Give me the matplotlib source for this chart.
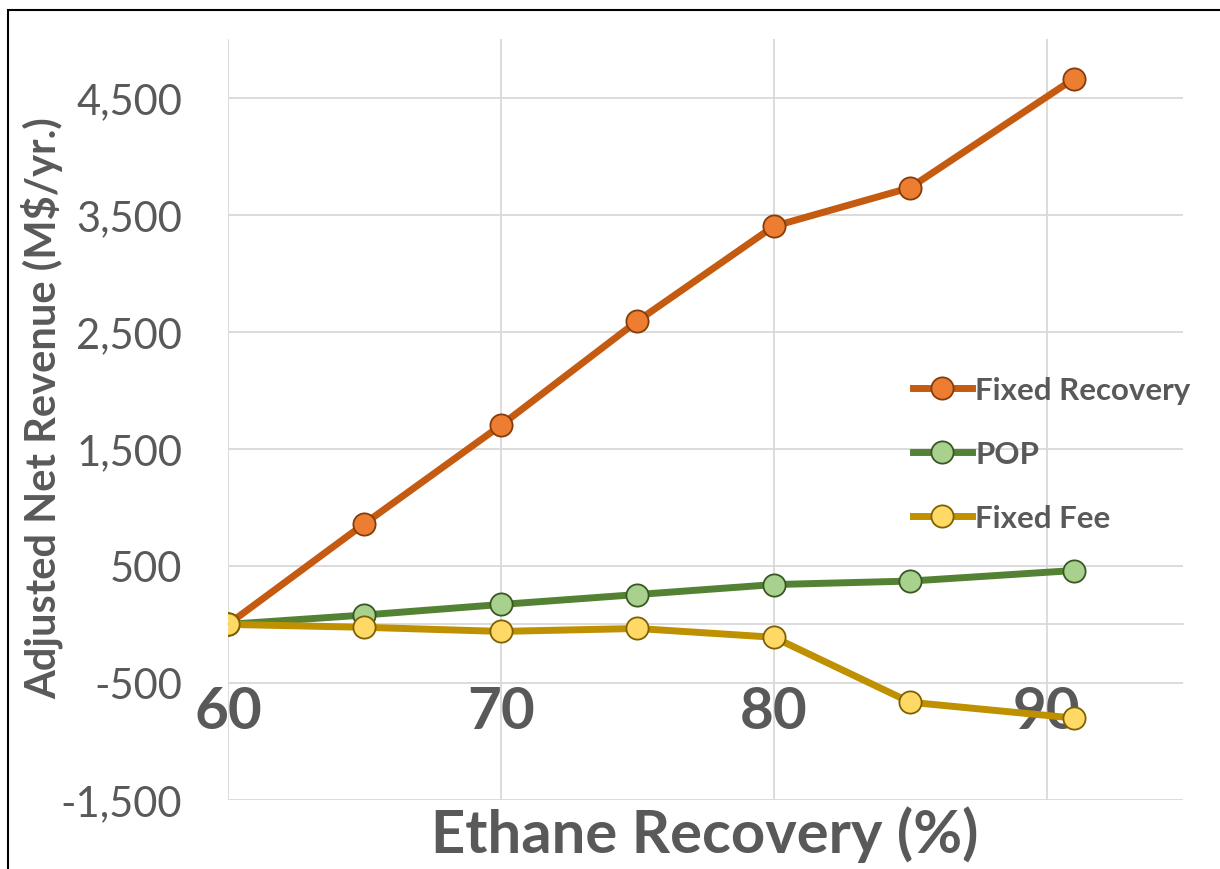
import numpy as np
import matplotlib.pyplot as plt
from matplotlib.patches import Rectangle

# dati
recovery = [60, 65, 70, 75, 80, 85, 91]
fixed_recovery = [0, 860, 1700, 2590, 3400, 3730, 4660]
pop = [0, 80, 170, 255, 340, 370, 460]
fixed_fee = [0, -25, -60, -35, -110, -665, -800]

x_ticks = [60, 70, 80, 90]
y_ticks = [-1500, -500, 500, 1500, 2500, 3500, 4500]

plt.rcParams['font.family'] = ['Lato', 'DejaVu Sans']
grey = '#595959'
grid_col = '#d9d9d9'

fig = plt.figure(figsize=(12.2, 8.7), dpi=100)
ax = fig.add_axes([228/1220, 1 - 801/870, (1183 - 228)/1220, (801 - 40)/870])

ax.plot(recovery, fixed_recovery, color='#C55A11', lw=5, marker='o', ms=16,
        mfc='#ED7D31', mec='#843C0C', mew=1.3, label='Fixed Recovery', zorder=3)
ax.plot(recovery, pop, color='#548235', lw=5, marker='o', ms=16,
        mfc='#A9D18E', mec='#385723', mew=1.3, label='POP', zorder=4)
ax.plot(recovery, fixed_fee, color='#BF9000', lw=5, marker='o', ms=16,
        mfc='#FFD966', mec='#7F6000', mew=1.3, label='Fixed Fee', zorder=5)

ax.set_xlim(60, 95)
ax.set_ylim(-1500, 5000)
ax.set_xticks(x_ticks)
ax.set_yticks(y_ticks)
ax.set_yticklabels([f'{v:,}' for v in y_ticks])
ax.grid(True, color=grid_col, lw=1.3, zorder=0)
ax.set_axisbelow(True)

for s in ['top', 'right', 'left']:
    ax.spines[s].set_visible(False)
ax.spines['bottom'].set_position(('data', 0))
ax.spines['bottom'].set_color(grid_col)
ax.spines['bottom'].set_linewidth(1.3)
ax.spines['bottom'].set_zorder(1)

ax.tick_params(axis='x', length=0, pad=44, labelsize=42, labelcolor=grey)
ax.tick_params(axis='y', length=0, pad=33, labelsize=30, labelcolor=grey)
for t in ax.get_xticklabels():
    t.set_fontweight('bold')

fig.text(42/1220, 1 - 408/870, 'Adjusted Net Revenue (M$/yr.)', rotation=90,
         ha='center', va='center', fontsize=30, fontweight='bold', color=grey)
fig.text(705/1220, 1 - 835/870, 'Ethane Recovery (%)',
         ha='center', va='center', fontsize=43, fontweight='bold', color=grey)

leg = ax.legend(loc='center left', bbox_to_anchor=(897/1220, 1 - 455/870),
                bbox_transform=fig.transFigure, frameon=False, borderpad=0,
                handlelength=1.9, handletextpad=0.1, labelspacing=1.15,
                prop={'size': 22.5, 'weight': 'bold'})
for t in leg.get_texts():
    t.set_color(grey)

# cornice nera come nell'originale
fig.patches.append(Rectangle((8/1220, -0.1), 1.2, 1 - 11/870 + 0.1,
                             transform=fig.transFigure, fill=False,
                             edgecolor='black', lw=1.5))

plt.savefig('out.png', dpi=100)
plt.close()
